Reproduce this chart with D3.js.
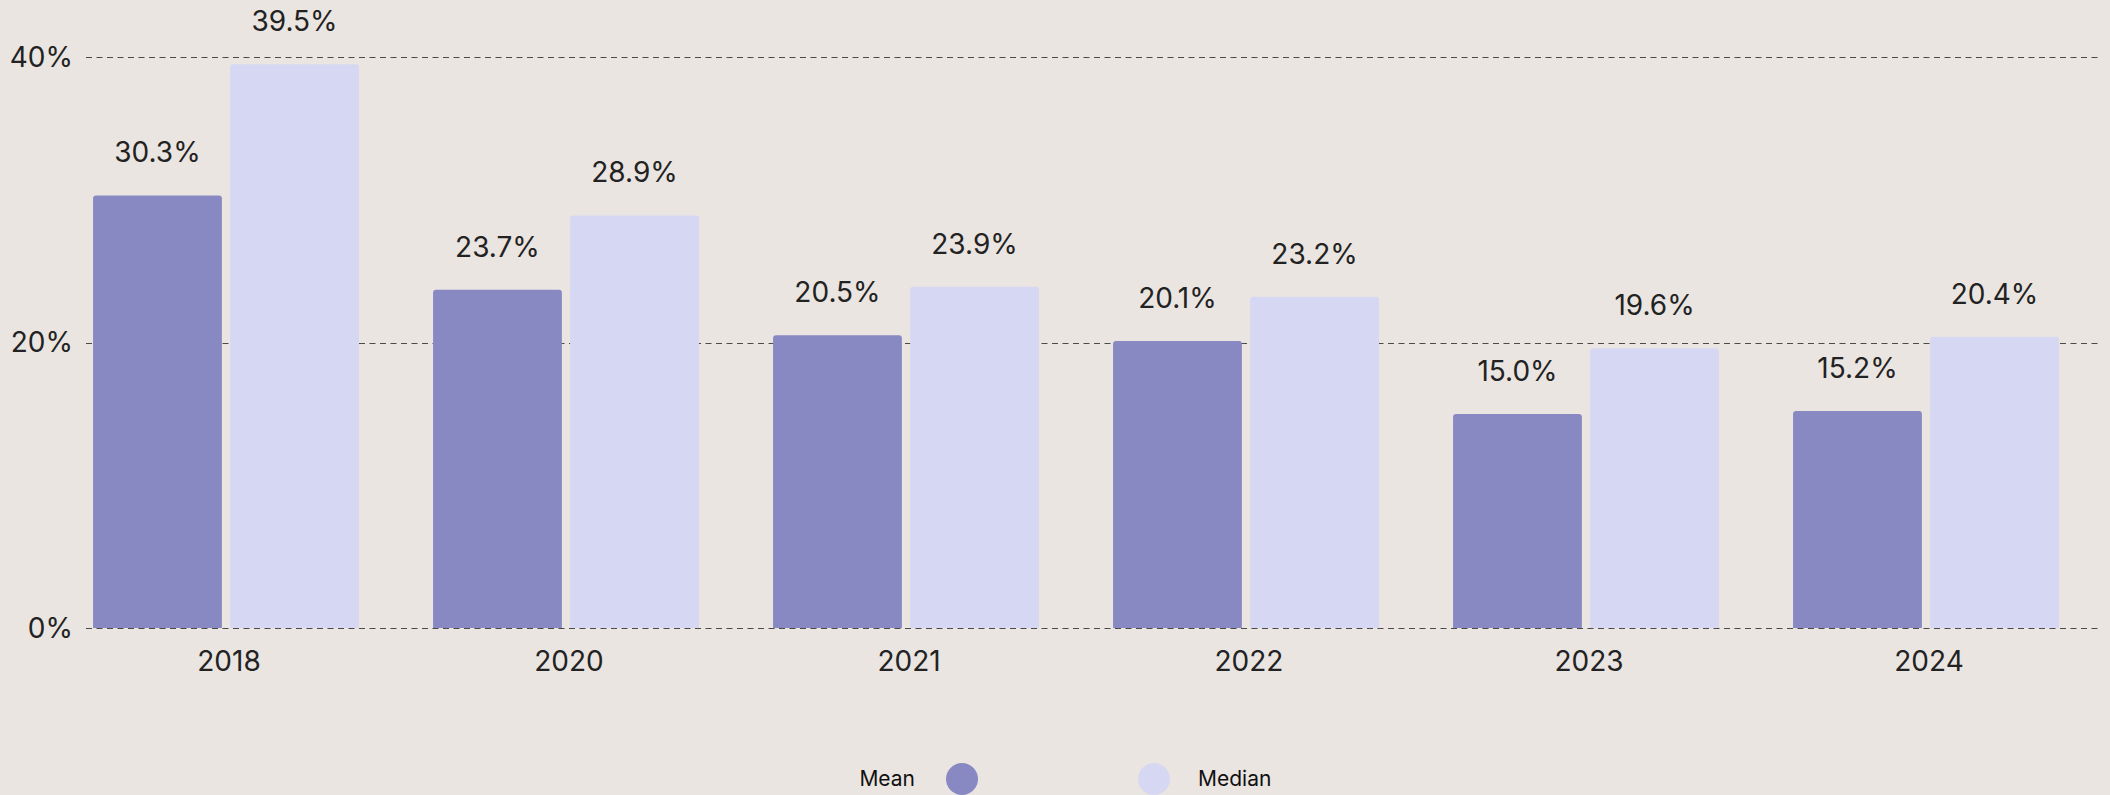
<!DOCTYPE html>
<html>
<head>
<meta charset="utf-8">
<script src="https://cdn.jsdelivr.net/npm/d3@7"></script>
<style>
  html, body { margin: 0; padding: 0; background: #eae5e1; }
  svg { display: block; }
</style>
</head>
<body>
<svg id="drawing_region"></svg>
<script>
const years = ['2018', '2020', '2021', '2022', '2023', '2024'];
const meanValues = [30.3, 23.7, 20.5, 20.1, 15.0, 15.2];
const medianValues = [39.5, 28.9, 23.9, 23.2, 19.6, 20.4];
const yTicks = [0, 20, 40];
const seriesNames = ['Mean', 'Median'];
const colors = ['#8889c3', '#d6d7f2'];

const width = 2110, height = 795;
const font = 'Inter, "Noto Sans", sans-serif';

const svg = d3.select('#drawing_region')
    .attr('width', width)
    .attr('height', height);

svg.append('rect')
    .attr('width', width)
    .attr('height', height)
    .attr('fill', '#eae5e1');

const yscale = d3.scaleLinear()
    .domain([0, 40])
    .range([628, 57]);

const xscale = d3.scaleBand()
    .domain(years)
    .range([56, 2096])
    .paddingInner(0.218)
    .paddingOuter(0.109);

const inner = d3.scaleBand()
    .domain(seriesNames)
    .range([0, xscale.bandwidth()])
    .paddingInner(0.06);

// grid lines
const grid = svg.append('g');
grid.selectAll('line')
    .data(yTicks)
    .join('line')
    .attr('x1', 86)
    .attr('x2', 2100)
    .attr('y1', d => Math.round(yscale(d)) + 0.5)
    .attr('y2', d => Math.round(yscale(d)) + 0.5)
    .attr('stroke', '#4a4a4a')
    .attr('stroke-width', 1)
    .attr('stroke-dasharray', '6,4.5');

grid.selectAll('text')
    .data(yTicks)
    .join('text')
    .attr('x', 73)
    .attr('y', d => yscale(d))
    .attr('dy', '0.35em')
    .attr('text-anchor', 'end')
    .attr('font-family', font)
    .attr('font-size', 28)
    .attr('fill', '#222')
    .text(d => d + '%');

// bars
const rows = years.map((y, i) => ({
    year: y,
    values: [meanValues[i], medianValues[i]]
}));

const groups = svg.selectAll('g.group')
    .data(rows)
    .join('g')
    .attr('class', 'group')
    .attr('transform', d => `translate(${xscale(d.year)},0)`);

const barPath = (x, y, w, h, r) =>
    `M${x},${y + h}V${y + r}Q${x},${y} ${x + r},${y}H${x + w - r}Q${x + w},${y} ${x + w},${y + r}V${y + h}Z`;

groups.selectAll('path')
    .data(d => d.values.map((v, j) => ({ name: seriesNames[j], value: v, idx: j })))
    .join('path')
    .attr('d', d => barPath(inner(d.name), yscale(d.value), inner.bandwidth(), yscale(0) - yscale(d.value), 3))
    .attr('fill', d => colors[d.idx]);

groups.selectAll('text.value')
    .data(d => d.values.map((v, j) => ({ name: seriesNames[j], value: v })))
    .join('text')
    .attr('class', 'value')
    .attr('x', d => inner(d.name) + inner.bandwidth() / 2)
    .attr('y', d => yscale(d.value) - 33)
    .attr('text-anchor', 'middle')
    .attr('font-family', font)
    .attr('font-size', 28)
    .attr('fill', '#222')
    .text(d => d.value.toFixed(1) + '%');

groups.append('text')
    .attr('x', xscale.bandwidth() / 2 + 3)
    .attr('y', 671)
    .attr('text-anchor', 'middle')
    .attr('font-family', font)
    .attr('font-size', 28)
    .attr('fill', '#222')
    .text(d => d.year);

// legend
const legend = svg.append('g');
legend.append('text')
    .attr('x', 915).attr('y', 779).attr('dy', '0.35em')
    .attr('text-anchor', 'end')
    .attr('font-family', font).attr('font-size', 21).attr('fill', '#111')
    .text(seriesNames[0]);
legend.append('circle')
    .attr('cx', 962).attr('cy', 779).attr('r', 16)
    .attr('fill', colors[0]);
legend.append('circle')
    .attr('cx', 1154).attr('cy', 779).attr('r', 16)
    .attr('fill', colors[1]);
legend.append('text')
    .attr('x', 1198).attr('y', 779).attr('dy', '0.35em')
    .attr('font-family', font).attr('font-size', 21).attr('fill', '#111')
    .text(seriesNames[1]);
</script>
</body>
</html>
